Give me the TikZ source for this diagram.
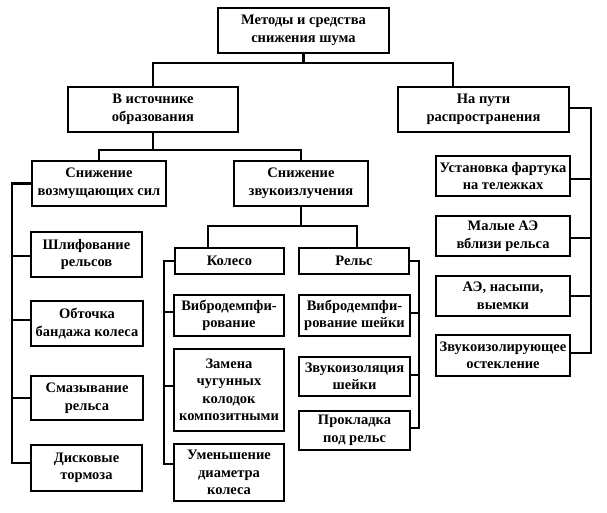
\documentclass[tikz,border=0pt]{standalone}
\usepackage{fontspec}
\setmainfont{Liberation Serif}
\begin{document}
\begin{tikzpicture}[x=1pt,y=-1pt,
  box/.style={draw, line width=2.2pt, fill=white, align=center, inner sep=0pt,
    font=\bfseries\fontsize{14.5}{17.5}\selectfont},
  conn/.style={line width=2.2pt}]
\path[use as bounding box] (0,0) rectangle (607,513);
\newcommand\mybox[6]{\node[box, minimum width={(#3-#2-2.2)*1pt}, minimum height={(#5-#4-2.2)*1pt}] (#1) at ({(#2+#3)/2},{(#4+#5)/2}) {#6};}
\mybox{top}{217}{390}{7}{54}{Методы и средства\\снижения шума}
\mybox{src}{67}{239}{86}{133}{В источнике\\образования}
\mybox{path}{397}{570}{86}{133}{На пути\\распространения}
\mybox{forces}{31}{167}{160}{207}{Снижение\\возмущающих сил}
\mybox{radiat}{233}{369}{160}{207}{Снижение\\звукоизлучения}
\mybox{shlif}{30}{143}{231}{278}{Шлифование\\рельсов}
\mybox{obtoch}{30}{144}{300}{347}{Обточка\\бандажа колеса}
\mybox{smaz}{30}{144}{375}{421}{Смазывание\\рельса}
\mybox{disk}{30}{143}{444}{492}{Дисковые\\тормоза}
\mybox{koleso}{174}{285}{247}{275}{Колесо}
\mybox{rels}{298}{410}{247}{275}{Рельс}
\mybox{vibroA}{173}{285}{294}{337}{Вибродемпфи-\\рование}
\mybox{zamena}{173}{285}{348}{432}{Замена\\чугунных\\колодок\\композитными}
\mybox{umen}{173}{285}{443}{502}{Уменьшение\\диаметра\\колеса}
\mybox{vibroB}{298}{411}{294}{337}{Вибродемпфи-\\рование шейки}
\mybox{zvukiz}{298}{411}{356}{397}{Звукоизоляция\\шейки}
\mybox{prokl}{298}{411}{410}{451}{Прокладка\\под рельс}
\mybox{ustan}{435}{571}{155}{197}{Установка фартука\\на тележках}
\mybox{malye}{435}{571}{215}{257}{Малые АЭ\\вблизи рельса}
\mybox{ae}{435}{571}{275}{317}{АЭ, насыпи,\\выемки}
\mybox{zvukst}{435}{571}{334}{377}{Звукоизолирующее\\остекление}
% top level
\coordinate (j1) at (303.5,63);
\coordinate (pA) at ([xshift=-30.5pt]path.north);
\draw[conn] (top.south) -- (j1);
\draw[conn] (src.north) |- (j1) -| (pA);
% source level
\coordinate (j2) at (153,150);
\draw[conn] (src.south) -- (j2);
\draw[conn] (forces.north) |- (j2) -| (radiat.north);
% radiation level
\coordinate (j3) at (301,226);
\coordinate (kA) at ([xshift=-21.5pt]koleso.north);
\coordinate (rA) at ([xshift=3pt]rels.north);
\draw[conn] (radiat.south) -- (j3);
\draw[conn] (kA) |- (j3) -| (rA);
% left bus
\coordinate (busL) at (12,0);
\coordinate (sA) at ([yshift=-1.5pt]shlif.west);
\coordinate (oA) at ([yshift=3.5pt]obtoch.west);
\coordinate (mA) at (smaz.west);
\coordinate (dA) at ([yshift=5pt]disk.west);
\draw[conn] (forces.west) -| (busL |- dA) -- (dA);
\foreach \c in {sA,oA,mA} \draw[conn] (busL |- \c) -- (\c);
% koleso bus
\coordinate (busK) at (164,0);
\coordinate (kvA) at ([yshift=3.5pt]vibroA.west);
\coordinate (kzA) at ([yshift=4pt]zamena.west);
\coordinate (kuA) at ([yshift=8.5pt]umen.west);
\draw[conn] (koleso.west) -| (busK |- kuA) -- (kuA);
\foreach \c in {kvA,kzA} \draw[conn] (busK |- \c) -- (\c);
% rels bus
\coordinate (busR) at (419,0);
\coordinate (rvA) at ([yshift=2.5pt]vibroB.east);
\coordinate (rzA) at ([yshift=1.5pt]zvukiz.east);
\coordinate (rpA) at ([yshift=2.5pt]prokl.east);
\draw[conn] (rels.east) -| (busR |- rpA) -- (rpA);
\foreach \c in {rvA,rzA} \draw[conn] (busR |- \c) -- (\c);
% path bus
\coordinate (busP) at (591,0);
\coordinate (p1) at ([yshift=-3pt]ustan.east);
\coordinate (p2) at ([yshift=-2pt]malye.east);
\coordinate (p3) at (ae.east);
\coordinate (p4) at ([yshift=2.5pt]zvukst.east);
\draw[conn] ([yshift=1.5pt]path.east) -| (busP |- p4) -- (p4);
\foreach \c in {p1,p2,p3} \draw[conn] (busP |- \c) -- (\c);
\end{tikzpicture}
\end{document}
